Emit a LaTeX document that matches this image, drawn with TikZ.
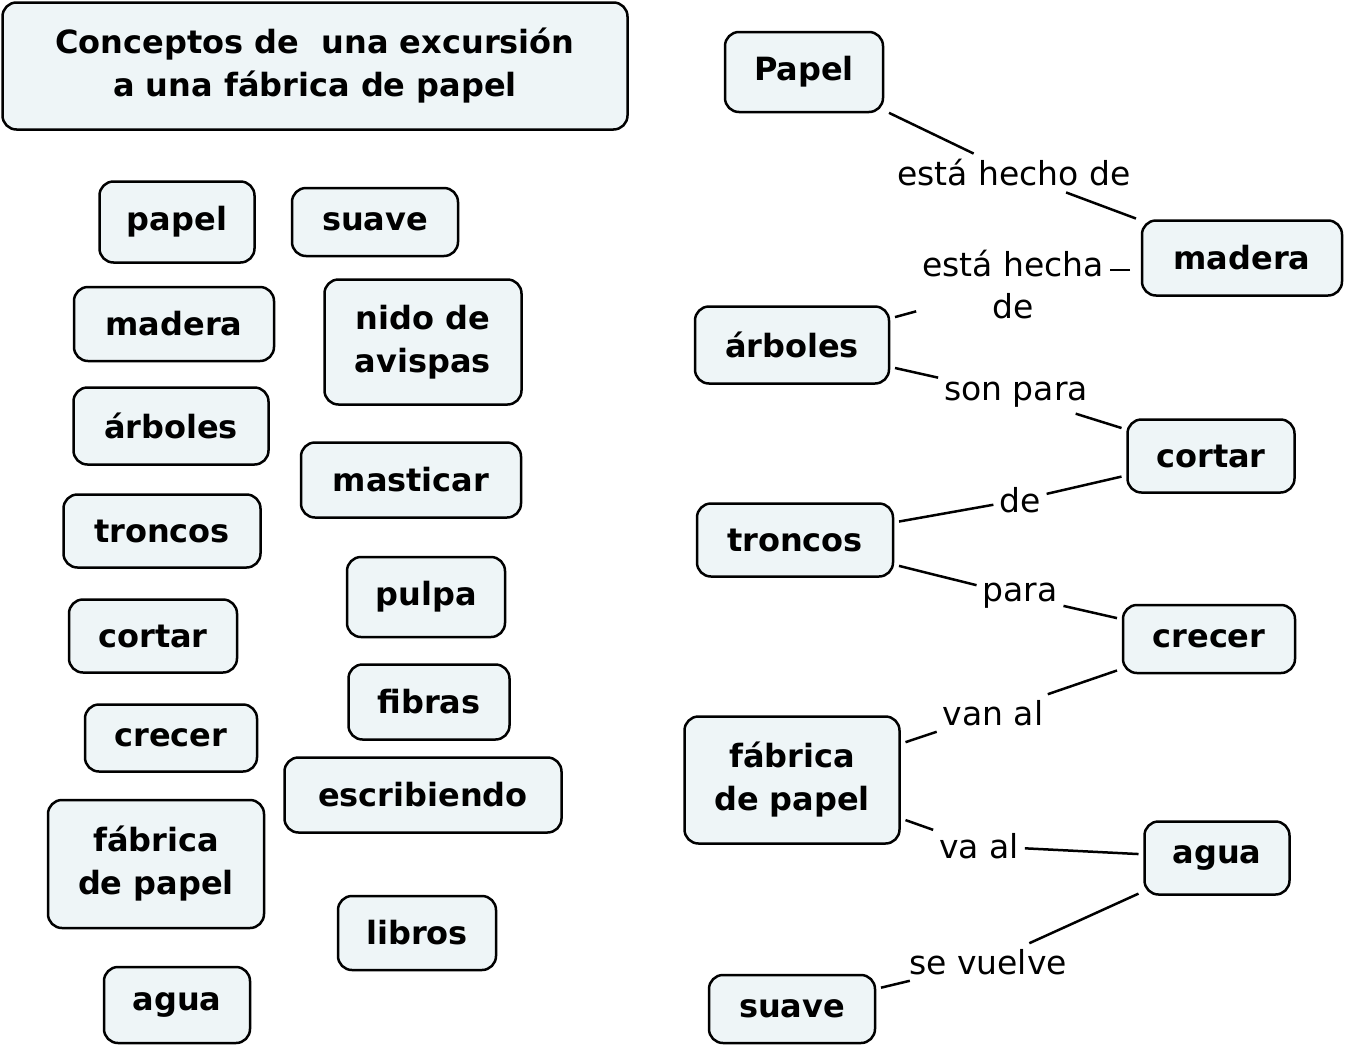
\documentclass[tikz,border=0pt]{standalone}
\usepackage{fontspec}
\setmainfont{DejaVu Sans}
\definecolor{boxfill}{HTML}{EEF5F7}
\begin{document}
\begin{tikzpicture}[x=1pt,y=-1pt,
  cbox/.style={draw,line width=2.5pt,rounded corners=14pt,fill=boxfill,align=center,font=\fontsize{32}{43}\selectfont\bfseries,inner sep=0pt,outer sep=6pt},
  lab/.style={font=\fontsize{33}{42}\selectfont,align=center,inner sep=4pt,outer sep=2pt},
  link/.style={line width=2.5pt}]
\useasboundingbox[fill=white] (0,0) rectangle (1350,1050);
\node[cbox,minimum width=625pt,minimum height=127pt,outer sep=0pt] (title) at (315,66) {Conceptos de\ \ una excursión\\a una fábrica de papel};
% left column
\node[cbox,minimum width=155pt,minimum height=81pt] (p1) at (177,222) {papel};
\node[cbox,minimum width=166pt,minimum height=68pt] (p2) at (375,222) {suave};
\node[cbox,minimum width=200pt,minimum height=74pt] (p3) at (174,324) {madera};
\node[cbox,minimum width=197pt,minimum height=125pt] (p4) at (423,342) {nido de\\avispas};
\node[cbox,minimum width=195pt,minimum height=77pt] (p5) at (171,426) {árboles};
\node[cbox,minimum width=220pt,minimum height=75pt] (p6) at (411,480) {masticar};
\node[cbox,minimum width=197pt,minimum height=73pt] (p7) at (162,531) {troncos};
\node[cbox,minimum width=158pt,minimum height=80pt] (p8) at (426,597) {pulpa};
\node[cbox,minimum width=168pt,minimum height=73pt] (p9) at (153,636) {cortar};
\node[cbox,minimum width=161pt,minimum height=75pt] (p10) at (429,702) {fibras};
\node[cbox,minimum width=172pt,minimum height=67pt] (p11) at (171,738) {crecer};
\node[cbox,minimum width=277pt,minimum height=75pt] (p12) at (423,795) {escribiendo};
\node[cbox,minimum width=216pt,minimum height=128pt] (p13) at (156,864) {fábrica\\de papel};
\node[cbox,minimum width=158pt,minimum height=74pt] (p14) at (417,933) {libros};
\node[cbox,minimum width=146pt,minimum height=76pt] (p15) at (177,1005) {agua};
% right map
\node[cbox,minimum width=158pt,minimum height=80pt] (papel) at (804,72) {Papel};
\node[cbox,minimum width=200pt,minimum height=75pt] (madera) at (1242,258) {madera};
\node[cbox,minimum width=194pt,minimum height=77pt] (arboles) at (792,345) {árboles};
\node[cbox,minimum width=167pt,minimum height=73pt] (cortar) at (1211,456) {cortar};
\node[cbox,minimum width=196pt,minimum height=73pt] (troncos) at (795,540) {troncos};
\node[cbox,minimum width=172pt,minimum height=68pt] (crecer) at (1209,639) {crecer};
\node[cbox,minimum width=215pt,minimum height=127pt] (fabrica) at (792,780) {fábrica\\de papel};
\node[cbox,minimum width=145pt,minimum height=73pt] (agua) at (1217,858) {agua};
\node[cbox,minimum width=166pt,minimum height=68pt] (suave) at (792,1009) {suave};
% labels
\node[lab] (l1) at (1014,173) {está hecho de};
\node[lab] (l2) at (1013,285) {está hecha\\de};
\node[lab] (l3) at (1016,395) {son para};
\node[lab] (l4) at (1020,500) {de};
\node[lab] (l5) at (1020,596) {para};
\node[lab] (l6) at (993,713) {van al};
\node[lab] (l7) at (979,846) {va al};
\node[lab] (l8) at (988,962) {se vuelve};
% links
\draw[link] (papel) -- (l1); \draw[link] (l1) -- (madera);
\draw[link] (madera.west) ++(-6,12) -- ++(-20,0);
\draw[link] (l2) -- (arboles);
\draw[link] (arboles) -- (l3); \draw[link] (l3) -- (cortar);
\draw[link] (cortar) -- (l4); \draw[link] (l4) -- (troncos);
\draw[link] (troncos) -- (l5); \draw[link] (l5) -- (crecer);
\draw[link] (crecer) -- (l6); \draw[link] (l6) -- (fabrica);
\draw[link] (fabrica) -- (l7); \draw[link] (l7) -- (agua);
\draw[link] (agua) -- (l8); \draw[link] (l8) -- (suave);
\end{tikzpicture}
\end{document}
